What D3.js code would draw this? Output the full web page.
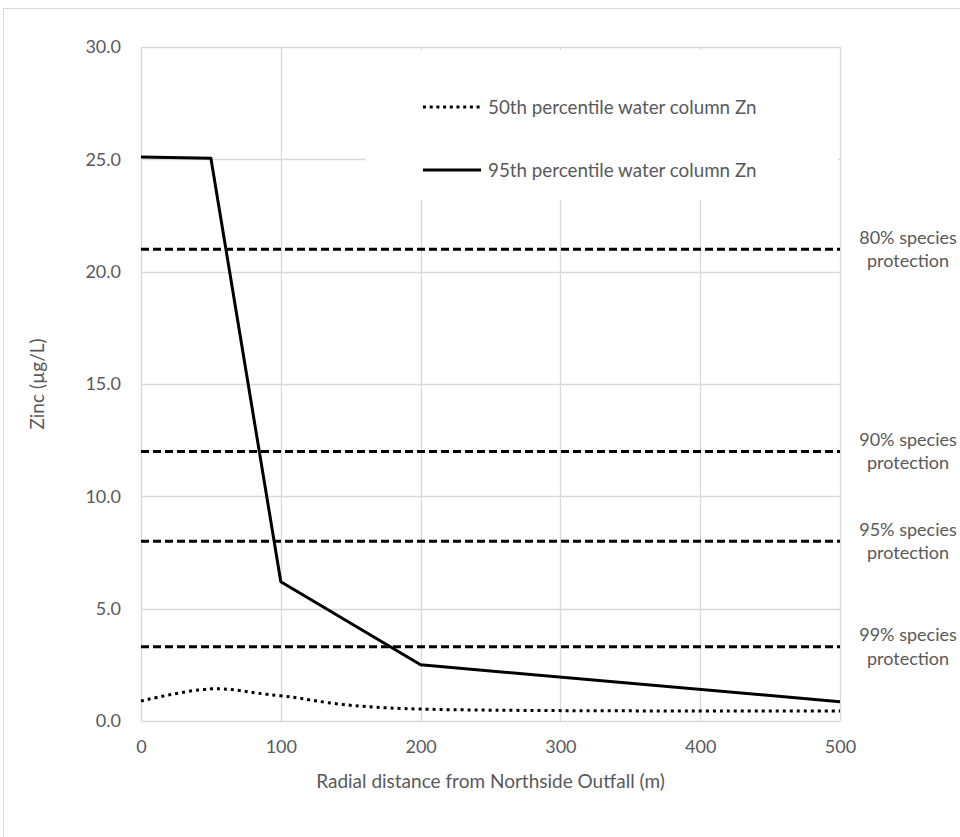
<!DOCTYPE html>
<html>
<head>
<meta charset="utf-8">
<script src="https://cdn.jsdelivr.net/npm/d3@7"></script>
<style>
  html, body { margin: 0; padding: 0; background: #fff; }
  svg { display: block; }
  text { font-family: Lato, "Open Sans", sans-serif; fill: #595959; }
</style>
</head>
<body>
<svg id="chart" width="960" height="837"></svg>
<script>
// Radial distance from the outfall (m)
const distances = [0, 50, 100, 200, 500];
// Zinc concentrations in the water column (µg/L)
const p50 = [0.89, 1.43, 1.12, 0.53, 0.45];
const p95 = [25.1, 25.05, 6.2, 2.5, 0.86];
// Species protection guideline values (µg/L)
const guidelineLevels = [21, 12, 8, 3.3];
const guidelineNames = ["80% species", "90% species", "95% species", "99% species"];
const seriesNames = ["50th percentile water column Zn", "95th percentile water column Zn"];
const yTicks = [0, 5, 10, 15, 20, 25, 30];
const xTicks = [0, 100, 200, 300, 400, 500];

const svg = d3.select("#chart");
const grid = "#d9d9d9";
const font = "Lato, 'Open Sans', sans-serif";

// chart frame
svg.append("rect")
  .attr("x", 3.5).attr("y", 8.5)
  .attr("width", 1000).attr("height", 900)
  .attr("fill", "#fff").attr("stroke", grid);

const x = d3.scaleLinear().domain([0, 500]).range([141, 840]);
const y = d3.scaleLinear().domain([0, 30]).range([721, 47]);

// gridlines
svg.append("g").selectAll("line").data(yTicks).join("line")
  .attr("x1", x(0)).attr("x2", x(500))
  .attr("y1", d => Math.round(y(d)) + 0.5).attr("y2", d => Math.round(y(d)) + 0.5)
  .attr("stroke", grid).attr("stroke-width", 1.3);
svg.append("g").selectAll("line").data(xTicks).join("line")
  .attr("y1", y(0)).attr("y2", y(30))
  .attr("x1", d => Math.round(x(d)) + 0.5).attr("x2", d => Math.round(x(d)) + 0.5)
  .attr("stroke", grid).attr("stroke-width", 1.3);

// axes (labels only)
const yAxis = svg.append("g").attr("transform", `translate(${x(0)},0)`)
  .call(d3.axisLeft(y).tickValues(yTicks).tickFormat(d3.format(".1f")).tickSize(0).tickPadding(20));
const xAxis = svg.append("g").attr("transform", `translate(0,${y(0)})`)
  .call(d3.axisBottom(x).tickValues(xTicks).tickSize(0).tickPadding(19));
[yAxis, xAxis].forEach(a => {
  a.select(".domain").remove();
  a.selectAll("text").style("font-family", font)
    .style("font-size", "18px").attr("fill", "#595959");
});

// legend background hides the gridlines underneath it
svg.append("rect")
  .attr("x", 366).attr("y", 50).attr("width", 472).attr("height", 150)
  .attr("fill", "#fff");

// guideline levels
svg.append("g").selectAll("line").data(guidelineLevels).join("line")
  .attr("x1", x(0)).attr("x2", x(500))
  .attr("y1", d => y(d)).attr("y2", d => y(d))
  .attr("stroke", "#000").attr("stroke-width", 3).attr("stroke-dasharray", "8,4");

const labels = svg.append("g").selectAll("text").data(guidelineLevels).join("text")
  .attr("x", 908).attr("y", d => y(d))
  .attr("text-anchor", "middle").style("font-size", "18px");
labels.append("tspan").attr("x", 908).attr("dy", "-0.3em").text((d, i) => guidelineNames[i]);
labels.append("tspan").attr("x", 908).attr("dy", "1.3em").text("protection");

const pts = arr => distances.map((d, i) => [x(d), y(arr[i])]);

// 50th percentile (smoothed, dotted)
svg.append("path")
  .attr("d", d3.line().curve(d3.curveCardinal.tension(0))(pts(p50)))
  .attr("fill", "none").attr("stroke", "#000").attr("stroke-width", 3)
  .attr("stroke-dasharray", "3,4");

// 95th percentile (solid)
svg.append("path")
  .attr("d", d3.line()(pts(p95)))
  .attr("fill", "none").attr("stroke", "#000").attr("stroke-width", 3)
  .attr("stroke-linejoin", "round");

// legend
const legendRows = [{ y: 107, dash: "3,3.7" }, { y: 170, dash: null }];
legendRows.forEach((r, i) => {
  const l = svg.append("line")
    .attr("x1", 423).attr("x2", 481).attr("y1", r.y).attr("y2", r.y)
    .attr("stroke", "#000").attr("stroke-width", 3);
  if (r.dash) l.attr("stroke-dasharray", r.dash);
  svg.append("text").attr("x", 488).attr("y", r.y).attr("dy", "0.35em")
    .style("font-size", "18.8px").text(seriesNames[i]);
});

// axis titles
svg.append("text").attr("x", x(250)).attr("y", 781).attr("dy", "0.35em")
  .attr("text-anchor", "middle").style("font-size", "19px")
  .text("Radial distance from Northside Outfall (m)");
svg.append("text").attr("transform", "translate(37,384) rotate(-90)")
  .attr("dy", "0.35em").attr("text-anchor", "middle").style("font-size", "19px")
  .text("Zinc (µg/L)");
</script>
</body>
</html>
